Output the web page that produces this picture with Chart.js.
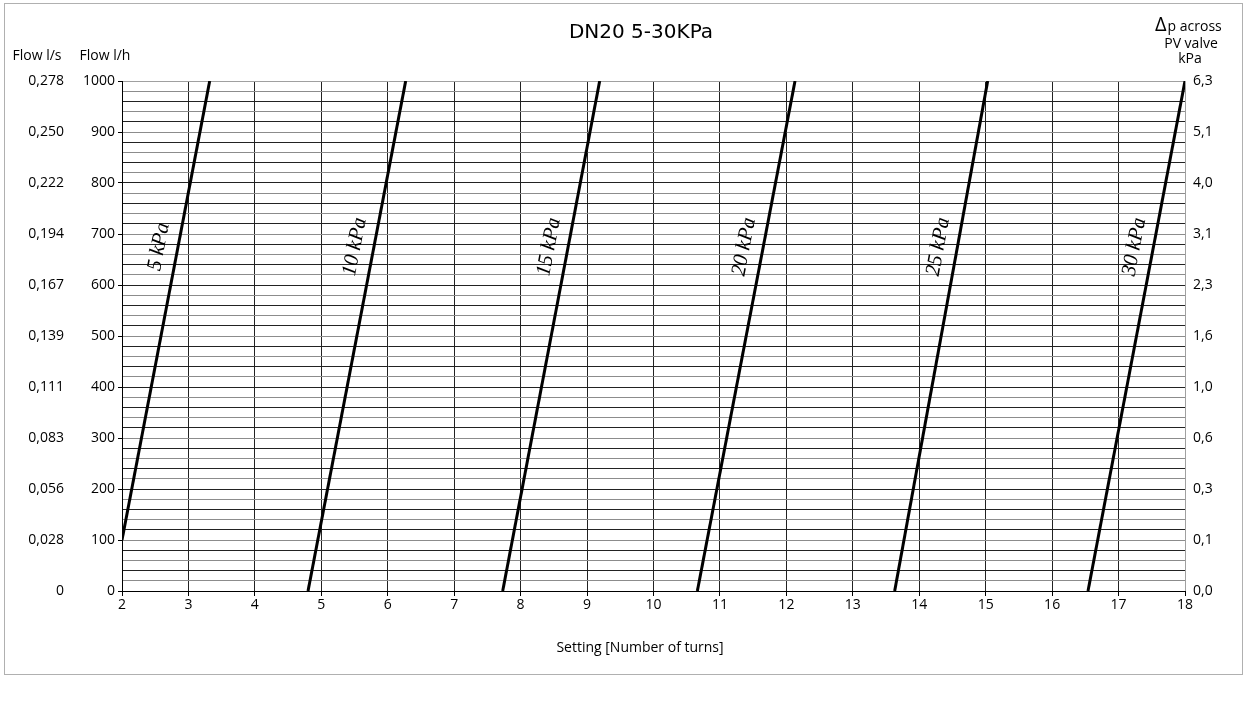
<!DOCTYPE html>
<html lang="en">
<head>
  <meta charset="UTF-8" />
  <script src="https://cdn.jsdelivr.net/npm/chart.js@4.4.1/dist/chart.umd.min.js"></script>
  <style>
    html, body { margin: 0; padding: 0; background: #fff; }
    #wrap { width: 1248px; height: 702px; position: relative; }
  </style>
</head>
<body>
  <div id="wrap"><canvas id="chart" width="1248" height="702"></canvas></div>
  <script>
    // curve labels (differential pressure) and their end points [setting, flow l/h]
    const curveNames = ['5 kPa', '10 kPa', '15 kPa', '20 kPa', '25 kPa', '30 kPa'];
    const startSetting = [2.0, 4.80, 7.73, 10.66, 13.63, 16.54];
    const startFlow = [100, 0, 0, 0, 0, 0];
    const endSetting = [3.32, 6.27, 9.19, 12.13, 15.03, 18.0];
    const endFlow = [1000, 1000, 1000, 1000, 1000, 1000];

    // tick labels
    const flowLsTicks = ['0', '0,028', '0,056', '0,083', '0,111', '0,139', '0,167', '0,194', '0,222', '0,250', '0,278'];
    const dpTicks = ['0,0', '0,1', '0,3', '0,6', '1,0', '1,6', '2,3', '3,1', '4,0', '5,1', '6,3'];

    const labelFlow = 675;
    const sans = "'Open Sans', 'Noto Sans', sans-serif";

    const datasets = curveNames.map((name, i) => ({
      label: name,
      data: [{ x: startSetting[i], y: startFlow[i] }, { x: endSetting[i], y: endFlow[i] }],
      showLine: true,
      borderColor: '#000',
      borderWidth: 3,
      pointRadius: 0,
      fill: false
    }));

    // frame, titles and the rotated curve labels
    const extras = {
      id: 'extras',
      beforeDraw(chart) {
        const c = chart.ctx;
        c.save();
        c.fillStyle = '#fff';
        c.fillRect(0, 0, chart.width, chart.height);
        c.strokeStyle = '#b0b0b0';
        c.lineWidth = 1;
        c.strokeRect(4.5, 3.5, 1238, 671);
        c.restore();
      },
      afterDraw(chart) {
        const c = chart.ctx;
        c.save();
        c.fillStyle = '#000';
        c.textAlign = 'center';
        c.textBaseline = 'middle';
        c.font = "20px 'DejaVu Sans'";
        c.fillText('DN20 5-30KPa', 641, 33);

        c.font = '14px ' + sans;
        c.fillText('Flow l/s', 37, 56);
        c.fillText('Flow l/h', 105, 56);
        c.fillText('Setting [Number of turns]', 640, 648);

        // right axis heading
        c.textAlign = 'left';
        c.textBaseline = 'alphabetic';
        c.font = '20px ' + sans;
        c.fillText('\u0394', 1155, 31);
        const dw = c.measureText('\u0394').width;
        c.font = '14px ' + sans;
        c.fillText('p across', 1155 + dw + 1, 31);
        c.textAlign = 'center';
        c.textBaseline = 'middle';
        c.fillText('PV valve', 1191, 44);
        c.fillText('kPa', 1190, 59);

        const xs = chart.scales.x, ys = chart.scales.y;
        c.font = "italic 21px 'Liberation Serif', serif";
        curveNames.forEach((name, i) => {
          const slope = (endSetting[i] - startSetting[i]) / (endFlow[i] - startFlow[i]);
          const sx = startSetting[i] + (labelFlow - startFlow[i]) * slope;
          const px = xs.getPixelForValue(sx);
          const py = ys.getPixelForValue(labelFlow);
          const dx = xs.getPixelForValue(endSetting[i]) - xs.getPixelForValue(startSetting[i]);
          const dy = ys.getPixelForValue(endFlow[i]) - ys.getPixelForValue(startFlow[i]);
          const ang = Math.atan2(dy, dx);
          c.save();
          c.translate(px - 19, py);
          c.rotate(ang);
          c.textAlign = 'center';
          c.textBaseline = 'middle';
          c.fillText(name, 0, 0);
          c.restore();
        });
        c.restore();
      }
    };

    new Chart(document.getElementById('chart'), {
      type: 'scatter',
      data: { datasets: datasets },
      options: {
        responsive: false,
        animation: false,
        layout: { padding: { top: 81, right: 0, bottom: 0, left: 0 } },
        plugins: { legend: { display: false }, tooltip: { enabled: false } },
        scales: {
          x: {
            type: 'linear', min: 2, max: 18,
            ticks: { stepSize: 1, color: '#000', font: { size: 14, family: sans }, padding: 1 },
            grid: {
              color: ctx => ctx.tick && ctx.tick.value === 18 ? '#a0a0a0' : '#222',
              tickColor: '#000', tickLength: 5, lineWidth: 1
            },
            border: { color: '#000', width: 1 },
            afterFit: s => { s.height = 111; }
          },
          y: {
            type: 'linear', position: 'left', weight: 0, min: 0, max: 1000,
            ticks: {
              stepSize: 20, autoSkip: false, color: '#000', font: { size: 14, family: sans }, padding: 3,
              callback: v => (v % 100 === 0 ? String(v) : '')
            },
            grid: {
              color: ctx => {
                const v = ctx.tick ? ctx.tick.value : 0;
                if (v === 1000) return '#a0a0a0';
                return (v / 20) % 2 === 1 ? '#8c8c8c' : '#222';
              },
              tickColor: ctx => (ctx.tick && ctx.tick.value % 100 === 0 ? '#000' : 'rgba(0,0,0,0)'),
              tickLength: 4, lineWidth: 1
            },
            border: { color: '#000', width: 1 },
            afterFit: s => { s.width = 52; }
          },
          ls: {
            type: 'linear', position: 'left', weight: 1, min: 0, max: 1000,
            ticks: {
              stepSize: 100, color: '#000', font: { size: 14, family: sans }, padding: 6,
              callback: v => flowLsTicks[Math.round(v / 100)]
            },
            grid: { drawOnChartArea: false, drawTicks: false },
            border: { display: false },
            afterFit: s => { s.width = 70; }
          },
          dp: {
            type: 'linear', position: 'right', min: 0, max: 1000,
            ticks: {
              stepSize: 100, color: '#000', font: { size: 14, family: sans }, padding: 8,
              callback: v => dpTicks[Math.round(v / 100)]
            },
            grid: { drawOnChartArea: false, drawTicks: false },
            border: { display: false },
            afterFit: s => { s.width = 63; }
          }
        }
      },
      plugins: [extras]
    });
  </script>
</body>
</html>
